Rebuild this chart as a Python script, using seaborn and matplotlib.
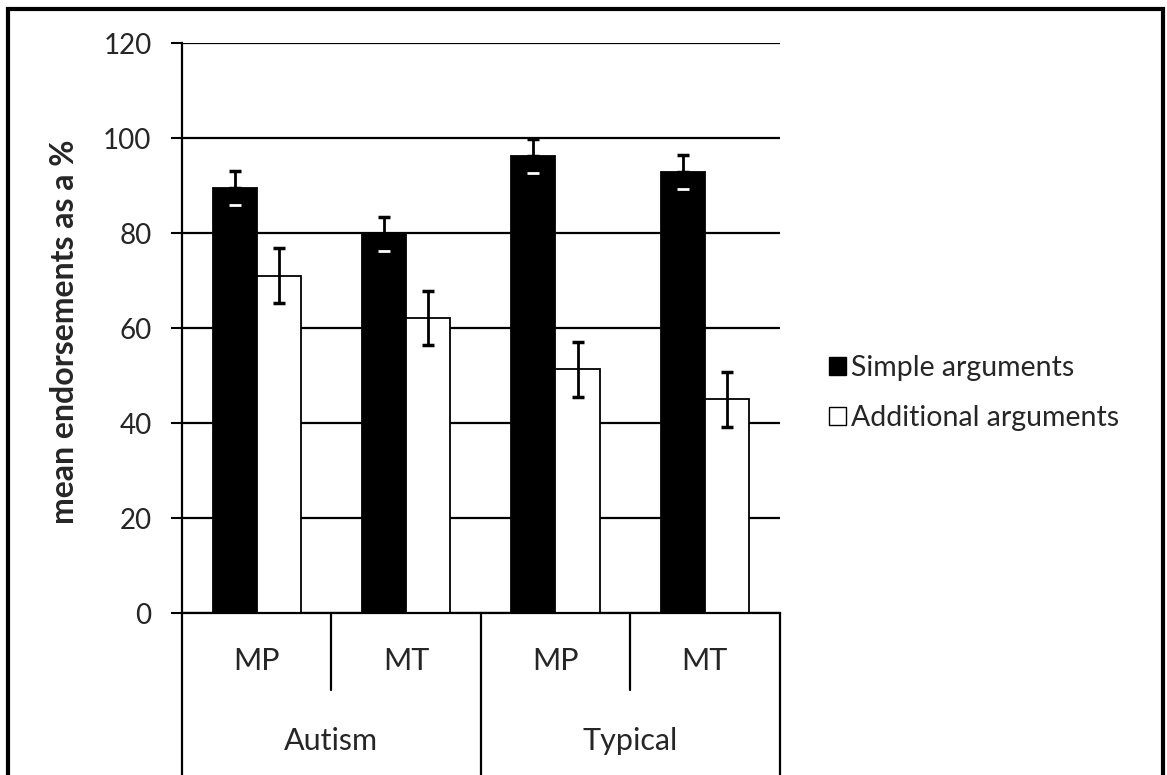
import numpy as np
import matplotlib.pyplot as plt
import pandas as pd
import seaborn as sns
from matplotlib.patches import Rectangle, Patch

# values
groups = ["Autism", "Autism", "Typical", "Typical"]
forms = ["MP", "MT", "MP", "MT"]
series = ["Simple arguments", "Additional arguments"]
simple = [89.5, 79.8, 96.2, 92.8]
additional = [71.0, 62.1, 51.3, 45.0]
simple_err = [3.5, 3.6, 3.6, 3.6]
additional_err = [5.8, 5.7, 5.8, 5.8]
yticks = [0, 20, 40, 60, 80, 100, 120]

sns.set_theme(style="white")
plt.rcParams['font.family'] = ['Lato', 'DejaVu Sans']

cats = [g + " " + f for g, f in zip(groups, forms)]
df = pd.DataFrame({
    "cat": cats * 2,
    "series": [series[0]] * len(cats) + [series[1]] * len(cats),
    "value": simple + additional,
})

fig = plt.figure(figsize=(11.67, 7.75), dpi=100)
ax = fig.add_axes([0.156, 0.209, 0.512, 0.7355])

sns.barplot(data=df, x="cat", y="value", hue="series", order=cats, hue_order=series,
            palette=["black", "white"], edgecolor="black", linewidth=1.3,
            width=0.59, errorbar=None, legend=False, ax=ax)

# error bars
cap = 4.5
for k, (container, errs) in enumerate(zip(ax.containers, [simple_err, additional_err])):
    for bar, e in zip(container, errs):
        x = bar.get_x() + bar.get_width() / 2
        h = bar.get_height()
        if k == 0:
            ax.errorbar(x, h, yerr=[[0], [e]], color="black", lw=2, capsize=cap, capthick=2.5, zorder=4)
            ax.plot([x], [h - e], marker="_", markersize=2 * cap, mew=2, color="white", zorder=4)
        else:
            ax.errorbar(x, h, yerr=e, color="black", lw=2, capsize=cap, capthick=2.5, zorder=4)

ax.set_ylim(0, 120)
ax.set_yticks(yticks)
ax.yaxis.grid(True, color="black", lw=1.6)
ax.set_axisbelow(True)
ax.tick_params(axis="y", left=True, length=8, width=1.5, color="black", labelsize=20, pad=14)
ax.tick_params(axis="x", bottom=False, labelbottom=False)
ax.set_xlabel("")
ax.set_ylabel("")
for s in ["top", "right"]:
    ax.spines[s].set_visible(False)
for s in ["left", "bottom"]:
    ax.spines[s].set_color("black")
    ax.spines[s].set_linewidth(1.6)

# two-level category axis
trans = ax.get_xaxis_transform()
pos = np.arange(len(cats))
for p, f in zip(pos, forms):
    ax.text(p, -0.085, f, transform=trans, ha="center", va="center", fontsize=22)
for g in dict.fromkeys(groups):
    gp = pos[[gg == g for gg in groups]].mean()
    ax.text(gp, -0.225, g, transform=trans, ha="center", va="center", fontsize=22)
for i in range(len(cats) + 1):
    edge = i == 0 or i == len(cats) or groups[i - 1] != groups[i]
    ax.plot([i - 0.5, i - 0.5], [0, -0.3 if edge else -0.135], transform=trans,
            color="black", lw=1.6, clip_on=False)
ax.set_xlim(-0.5, len(cats) - 0.5)

fig.text(65 / 1167, 1 - 332 / 775, "mean endorsements as a %", rotation=90,
         ha="center", va="center", fontsize=23, fontweight="bold")

handles = [Patch(facecolor="black", edgecolor="black"), Patch(facecolor="white", edgecolor="black")]
fig.legend(handles, series, loc="center left", bbox_to_anchor=(803 / 1167, 1 - 393 / 775),
           frameon=False, fontsize=20.5, handlelength=0.6, handleheight=0.6,
           handletextpad=0.2, labelspacing=0.85)

fig.patches.append(Rectangle((8 / 1167, -0.05), 1155 / 1167, 0.05 + 1 - 9 / 775,
                             transform=fig.transFigure, fill=False, lw=3, ec="black"))

fig.savefig("out.png", dpi=100)
